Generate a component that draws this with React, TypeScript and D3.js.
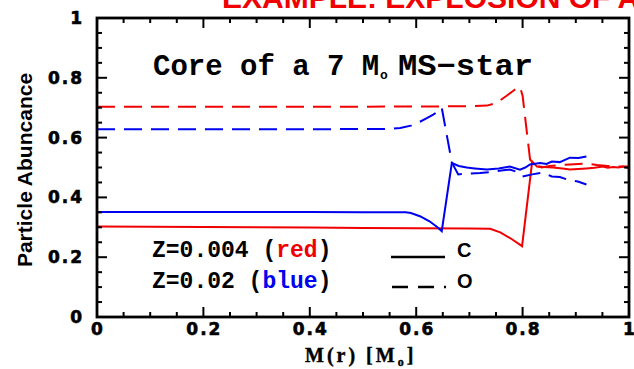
import * as d3 from "d3";

// Carbon / oxygen abundance profiles (x = M(r) in Msun, y = abundance)
const redCMass = [0, 0.1, 0.2, 0.3, 0.4, 0.5, 0.6, 0.7, 0.739, 0.758, 0.78, 0.799, 0.818, 0.827, 0.84, 0.857, 0.875, 0.889, 0.905, 0.92, 0.935, 0.951, 0.96, 0.97, 0.98, 0.989, 1.0];
const redC = [0.303, 0.302, 0.301, 0.3, 0.299, 0.298, 0.297, 0.296, 0.295, 0.283, 0.26, 0.237, 0.52, 0.503, 0.502, 0.5, 0.497, 0.493, 0.495, 0.497, 0.499, 0.503, 0.499, 0.502, 0.5, 0.503, 0.497];

const redOMass = [0, 0.2, 0.4, 0.6, 0.7, 0.733, 0.75, 0.77, 0.785, 0.795, 0.8, 0.814, 0.82, 0.836, 0.85, 0.87, 0.889, 0.905, 0.92, 0.94, 0.96, 0.977, 1.0];
const redO = [0.703, 0.703, 0.703, 0.704, 0.705, 0.707, 0.715, 0.74, 0.76, 0.77, 0.74, 0.527, 0.51, 0.5, 0.505, 0.508, 0.51, 0.512, 0.513, 0.508, 0.505, 0.503, 0.503];

const blueCMass = [0, 0.2, 0.4, 0.5, 0.58, 0.59, 0.607, 0.625, 0.64, 0.648, 0.667, 0.68, 0.695, 0.71, 0.733, 0.755, 0.776, 0.795, 0.805, 0.814, 0.833, 0.845, 0.855, 0.87, 0.889, 0.905, 0.92];
const blueC = [0.351, 0.351, 0.351, 0.35, 0.35, 0.348, 0.337, 0.32, 0.3, 0.287, 0.515, 0.505, 0.5, 0.497, 0.493, 0.497, 0.503, 0.493, 0.5, 0.51, 0.515, 0.512, 0.52, 0.518, 0.533, 0.532, 0.537];

const blueOMass = [0, 0.2, 0.4, 0.55, 0.57, 0.59, 0.607, 0.62, 0.632, 0.643, 0.648, 0.667, 0.679, 0.7, 0.72, 0.74, 0.76, 0.776, 0.79, 0.8, 0.818, 0.838, 0.855, 0.87, 0.889, 0.904, 0.92];
const blueO = [0.628, 0.628, 0.628, 0.629, 0.632, 0.64, 0.653, 0.665, 0.677, 0.69, 0.7, 0.517, 0.477, 0.48, 0.482, 0.485, 0.49, 0.493, 0.485, 0.47, 0.477, 0.483, 0.47, 0.468, 0.457, 0.453, 0.443];

const RED = "#f00000";
const BLUE = "#0000f0";

const W = 634;
const H = 369;

const x = d3.scaleLinear().domain([0, 1]).range([97, 629]);
const y = d3.scaleLinear().domain([0, 1]).range([317, 18]);

const line = d3
  .line<[number, number]>()
  .x((d) => x(d[0]))
  .y((d) => y(d[1]));

const series = [
  { m: redCMass, v: redC, color: RED, dash: undefined },
  { m: redOMass, v: redO, color: RED, dash: "18,9" },
  { m: blueCMass, v: blueC, color: BLUE, dash: undefined },
  { m: blueOMass, v: blueO, color: BLUE, dash: "18,9" },
];

const isMajor = (v: number) => Math.abs(v * 5 - Math.round(v * 5)) < 1e-6;
const fmt = (v: number) => (v === 0 || v === 1 ? String(v) : v.toFixed(1));

const tickFont = {
  fontFamily: "DejaVu Sans",
  fontWeight: "bold" as const,
  fontSize: 17,
  letterSpacing: 2,
  stroke: "#000",
  strokeWidth: 0.6,
};

export default function App() {
  const minorX = x.ticks(20);
  const minorY = y.ticks(20);
  const majorX = x.ticks(5);
  const majorY = y.ticks(5);
  const [x0, x1] = x.range();
  const [y0, y1] = y.range();

  return (
    <svg
      width={W}
      height={H}
      style={{ position: "absolute", left: 0, top: 0, background: "#fff" }}
    >
      {/* cut-off headline */}
      <text
        x={222}
        y={8}
        fill={RED}
        fontFamily="Liberation Sans"
        fontWeight="bold"
        fontSize={30}
      >
        EXAMPLE: EXPLOSION OF A MASSIVE STAR
      </text>

      {/* curves */}
      {series.map((s, i) => (
        <path
          key={i}
          d={line(d3.zip(s.m, s.v) as [number, number][]) ?? ""}
          fill="none"
          stroke={s.color}
          strokeWidth={2}
          strokeDasharray={s.dash}
        />
      ))}

      {/* frame */}
      <rect
        x={x0}
        y={y1}
        width={x1 - x0}
        height={y0 - y1}
        fill="none"
        stroke="#000"
        strokeWidth={2.8}
      />

      {/* ticks on all sides, pointing inward */}
      {minorX.map((v) => {
        const len = isMajor(v) ? 10 : 5;
        return (
          <g key={"x" + v} stroke="#000" strokeWidth={2}>
            <line x1={x(v)} x2={x(v)} y1={y0} y2={y0 - len} />
            <line x1={x(v)} x2={x(v)} y1={y1} y2={y1 + len} />
          </g>
        );
      })}
      {minorY.map((v) => {
        const len = isMajor(v) ? 10 : 5;
        return (
          <g key={"y" + v} stroke="#000" strokeWidth={2}>
            <line x1={x0} x2={x0 + len} y1={y(v)} y2={y(v)} />
            <line x1={x1} x2={x1 - len} y1={y(v)} y2={y(v)} />
          </g>
        );
      })}

      {/* tick labels */}
      {majorX.map((v) => (
        <text key={"xl" + v} x={x(v) + 1} y={335} textAnchor="middle" {...tickFont}>
          {fmt(v)}
        </text>
      ))}
      {majorY.map((v) => (
        <text
          key={"yl" + v}
          x={84}
          y={y(v) + 6}
          textAnchor="end"
          {...tickFont}
        >
          {fmt(v)}
        </text>
      ))}

      {/* axis titles */}
      <text
        x={305}
        y={362}
        fontFamily="Liberation Serif"
        fontWeight="bold"
        fontSize={20}
        letterSpacing={3}
        stroke="#000"
        strokeWidth={0.4}
      >
        M(r) [M
        <tspan fontSize={12} dy={4}>
          o
        </tspan>
        <tspan dy={-4}>]</tspan>
      </text>
      <text
        transform="translate(32,170) rotate(-90)"
        textAnchor="middle"
        fontFamily="Liberation Sans"
        fontWeight="bold"
        fontSize={21}
      >
        Particle Abuncance
      </text>

      {/* annotation */}
      <g fontFamily="Liberation Mono" fontWeight="bold">
        <text x={153} y={75} fontSize={29}>
          Core of a 7 M
        </text>
        <text x={380} y={79} fontSize={13}>
          o
        </text>
        <text x={398} y={75} fontSize={29} textLength={135} lengthAdjust="spacingAndGlyphs">
          MS−star
        </text>
      </g>

      {/* legend */}
      <g fontFamily="Liberation Mono" fontWeight="bold" fontSize={23}>
        <text x={152} y={257}>
          Z=0.004 (<tspan fill={RED}>red</tspan>)
        </text>
        <text x={152} y={288}>
          Z=0.02 (<tspan fill={BLUE}>blue</tspan>)
        </text>
      </g>
      <line x1={391} x2={445} y1={257} y2={257} stroke="#000" strokeWidth={2.5} />
      <line
        x1={392}
        x2={446}
        y1={287}
        y2={287}
        stroke="#000"
        strokeWidth={2.5}
        strokeDasharray="16,10"
      />
      <g fontFamily="Liberation Sans" fontWeight="bold" fontSize={20}>
        <text x={457} y={257}>C</text>
        <text x={457} y={288}>O</text>
      </g>
    </svg>
  );
}
